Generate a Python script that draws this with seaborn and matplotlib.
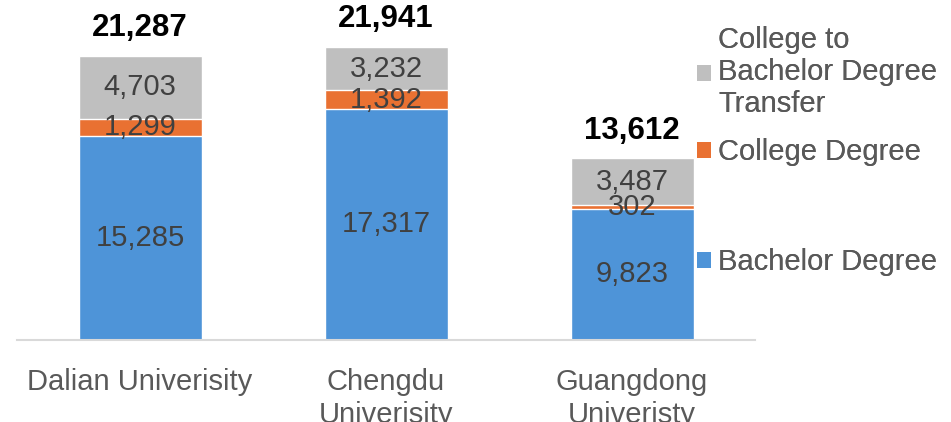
import matplotlib
matplotlib.use("Agg")
import matplotlib.pyplot as plt
import seaborn as sns
import pandas as pd
from matplotlib.patches import Patch

universities = ["Dalian Univerisity", "Chengdu\nUniverisity", "Guangdong\nUniveristy"]
bachelor = [15285, 17317, 9823]
college = [1299, 1392, 302]
transfer = [4703, 3232, 3487]
totals = [21287, 21941, 13612]

series_names = ["College to\nBachelor Degree\nTransfer", "College Degree", "Bachelor Degree"]
colors = {"Bachelor Degree": "#4E94D8", "College Degree": "#E97132", "Transfer": "#BFBFBF"}

sns.set_theme(style="white")
plt.rcParams["font.family"] = ["Liberation Sans", "DejaVu Sans"]

df = pd.DataFrame({
    "uni": universities,
    "bachelor": bachelor,
    "college": college,
    "transfer": transfer,
})
df["c1"] = df["bachelor"] + df["college"]
df["c2"] = df["c1"] + df["transfer"]

fig = plt.figure(figsize=(9.51, 4.22), dpi=100)
ax = fig.add_axes([17 / 951, 82 / 422, 738 / 951, 0.7904])

sns.barplot(data=df, x="uni", y="c2", color=colors["Transfer"], width=0.5, ax=ax, saturation=1)
sns.barplot(data=df, x="uni", y="c1", color=colors["College Degree"], width=0.5, ax=ax, saturation=1)
sns.barplot(data=df, x="uni", y="bachelor", color=colors["Bachelor Degree"], width=0.5, ax=ax, saturation=1)

ax.set_ylim(0, 25000)
ax.set_xlim(-0.5, 2.5)
ax.set_xlabel("")
ax.set_ylabel("")
ax.set_yticks([])
for s in ["left", "right", "top"]:
    ax.spines[s].set_visible(False)
ax.spines["bottom"].set_color("#D9D9D9")
ax.spines["bottom"].set_linewidth(1.5)
ax.tick_params(axis="x", length=0, pad=20, labelsize=21, labelcolor="#595959")
for lbl in ax.get_xticklabels():
    lbl.set_verticalalignment("top")
    lbl.set_linespacing(1.22)

txt = "#404040"
for i in range(len(universities)):
    b, c, t = bachelor[i], college[i], transfer[i]
    ax.text(i, b / 2, f"{b:,}", ha="center", va="center", fontsize=21, color=txt)
    ax.text(i, b + c / 2, f"{c:,}", ha="center", va="center", fontsize=21, color=txt)
    ax.text(i, b + c + t / 2, f"{t:,}", ha="center", va="center", fontsize=21, color=txt)
    ax.annotate(f"{totals[i]:,}", xy=(i, totals[i]), xytext=(0, 20), textcoords="offset points",
                ha="center", va="center", fontsize=22.5, fontweight="bold", color="black",
                annotation_clip=False)

# legend entries placed individually
legend_items = [
    (series_names[0], colors["Transfer"], 72),
    (series_names[1], colors["College Degree"], 152),
    (series_names[2], colors["Bachelor Degree"], 262),
]
for label, col, ypix in legend_items:
    lg = fig.legend(handles=[Patch(facecolor=col, edgecolor="none")], labels=[label],
                    loc="center left", bbox_to_anchor=(697 / 951, 1 - ypix / 422),
                    frameon=False, fontsize=21, handlelength=0.48, handleheight=0.48,
                    handletextpad=0.24, borderpad=0, borderaxespad=0, labelcolor="#595959")
    for t in lg.get_texts():
        t.set_linespacing(1.2)
    fig.add_artist(lg)

fig.savefig("out.png", dpi=100)
